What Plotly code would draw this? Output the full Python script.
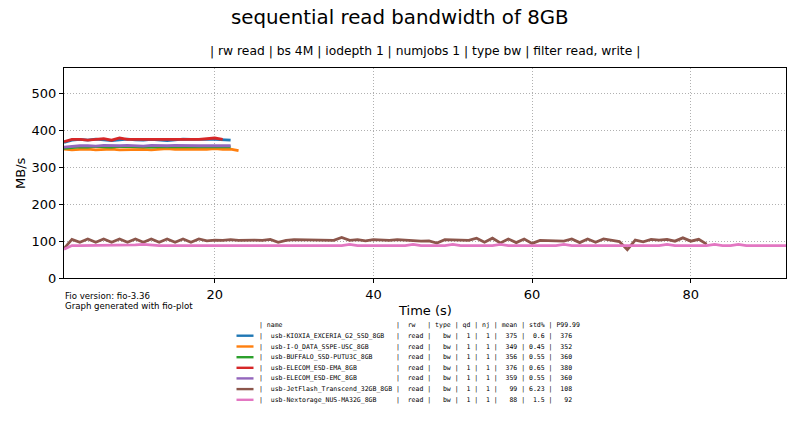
import plotly.graph_objects as go

# ---------------- data ----------------
names = [
    "usb-KIOXIA_EXCERIA_G2_SSD_8GB",
    "usb-I-O_DATA_SSPE-USC_8GB",
    "usb-BUFFALO_SSD-PUTU3C_8GB",
    "usb-ELECOM_ESD-EMA_8GB",
    "usb-ELECOM_ESD-EMC_8GB",
    "usb-JetFlash_Transcend_32GB_8GB",
    "usb-Nextorage_NUS-MA32G_8GB",
]
colors = ["#1f77b4", "#ff7f0e", "#2ca02c", "#d62728", "#9467bd", "#8c564b", "#e377c2"]

kioxia = [368, 374, 376, 374, 377, 376, 373, 375, 377, 375, 374, 376, 375, 373, 375,
          377, 376, 375, 376, 376, 375, 374]
iodata = [350, 348, 349, 350, 348, 349, 350, 348, 349, 350, 349, 348, 349, 351, 349,
          348, 349, 350, 349, 351, 349, 350, 346]
buffalo = [352, 355, 356, 355, 357, 356, 355, 357, 356, 357, 356, 355, 356, 357, 356,
           356, 357, 356, 356, 357, 356, 356]
ema = [370, 376, 376, 374, 376, 378, 374, 380, 376, 376, 374, 376, 376, 374, 376,
       376, 376, 376, 378, 380, 376]
emc = [355, 358, 359, 359, 358, 360, 359, 359, 360, 359, 358, 360, 359, 359, 360,
       359, 360, 359, 359, 360, 359, 359]
jetflash = [80, 105, 97, 106, 97, 106, 97, 106, 97, 106, 97, 106, 97, 106, 97,
            106, 97, 106, 101, 103, 102, 104, 102, 103, 103, 102, 105, 97, 102, 104,
            104, 104, 104, 104, 102, 110, 102, 104, 101, 104, 102, 102, 104, 102, 102,
            100, 101, 95, 104, 104, 104, 102, 108, 97, 108, 95, 106, 96, 106, 94,
            102, 102, 102, 100, 106, 96, 106, 97, 106, 103, 99, 77, 103, 98, 105,
            103, 105, 100, 109, 100, 105, 92]
nextorage = [78, 88, 88, 88, 88, 88, 88, 88, 88, 90, 91, 89, 88, 88, 88,
             88, 88, 88, 88, 88, 88, 88, 88, 88, 88, 88, 88, 88, 88, 88,
             88, 88, 88, 88, 88, 88, 91, 88, 88, 88, 88, 88, 88, 88, 91,
             88, 88, 88, 88, 91, 88, 88, 88, 88, 88, 91, 88, 88, 88, 88,
             88, 88, 88, 91, 88, 88, 88, 88, 88, 88, 88, 88, 88, 88, 88,
             88, 91, 88, 88, 88, 88, 88, 91, 88, 88, 91, 88, 88, 88, 88,
             88, 88]
series = [kioxia, iodata, buffalo, ema, emc, jetflash, nextorage]

means = [375, 349, 356, 376, 359, 99, 88]
stds = ["0.6", "0.45", "0.55", "0.65", "0.55", "6.23", "1.5"]
p9999 = [376, 352, 360, 380, 360, 108, 92]

x_ticks = [20, 40, 60, 80]
y_ticks = [0, 100, 200, 300, 400, 500]

title = "sequential read bandwidth of 8GB"
subtitle = "| rw read | bs 4M | iodepth 1 | numjobs 1 | type bw | filter read, write |"

# ---------------- layout geometry ----------------
W, H = 800, 444
L, R, T, B = 64, 14, 68, 166
PH = H - T - B
PW = W - L - R


def py(ypx):
    return (H - B - ypx) / PH


def px(xpx):
    return (xpx - L) / PW


fig = go.Figure()
for name, vals, col in zip(names, series, colors):
    fig.add_trace(go.Scatter(
        x=list(range(1, len(vals) + 1)), y=vals, mode="lines", name=name,
        line=dict(color=col, width=2.8), showlegend=False,
    ))

FONT = "DejaVu Sans"
MONO = "DejaVu Sans Mono"


def txt(text, xpx, ypx, size, family=FONT, xanchor="center", angle=0):
    return dict(text=text, x=px(xpx), y=py(ypx), xref="paper", yref="paper",
                xanchor=xanchor, yanchor="middle", textangle=angle, showarrow=False,
                borderpad=0, font=dict(size=size, family=family, color="black"))


ann = [
    txt(title, 400, 18, 19.8),
    txt(subtitle, 425, 51, 12.3),
    txt("Time (s)", 425, 310, 13),
    txt("MB/s", 20, 173, 13, angle=-90),
    txt("Fio version: fio-3.36", 64, 296, 8.6, xanchor="left"),
    txt("Graph generated with fio-plot", 64, 306, 8.6, xanchor="left"),
]

header = "| name" + " " * 29 + "|  rw   | type | qd | nj | mean | std% | P99.99"
rows = [f"|  {n:<31} |  read |   bw |  1 |  1 |  {m:>3} | {s:>4} |  {p:>3}"
        for n, m, s, p in zip(names, means, stds, p9999)]

tx = 258
ann.append(txt(header.replace(" ", "\u00a0"), tx, 325, 6.5, family=MONO, xanchor="left"))
shapes = []
row_y = [335.7, 346.5, 357.2, 367.8, 378.4, 389.1, 399.8]
for r, yy, col in zip(rows, row_y, colors):
    ann.append(txt(r.replace(" ", "\u00a0"), tx, yy, 6.5, family=MONO, xanchor="left"))
    shapes.append(dict(type="line", xref="paper", yref="paper", x0=px(236.5), x1=px(253.5),
                       y0=py(yy), y1=py(yy), line=dict(color=col, width=2.4)))

axis_common = dict(
    showline=True, linecolor="black", linewidth=1, mirror=True,
    ticks="outside", ticklen=4, tickcolor="black", tickwidth=1,
    showgrid=True, gridcolor="#b0b0b0", griddash="1px,2px", gridwidth=1,
    zeroline=False, tickfont=dict(size=13, family=FONT, color="black"),
)
fig.update_layout(
    width=W, height=H, margin=dict(l=L, r=R, t=T, b=B),
    paper_bgcolor="white", plot_bgcolor="white",
    annotations=ann, shapes=shapes,
    xaxis=dict(range=[1, 92], tickvals=x_ticks, **axis_common),
    yaxis=dict(range=[0, 570], tickvals=y_ticks, **axis_common),
)
fig.write_html("out.html")
